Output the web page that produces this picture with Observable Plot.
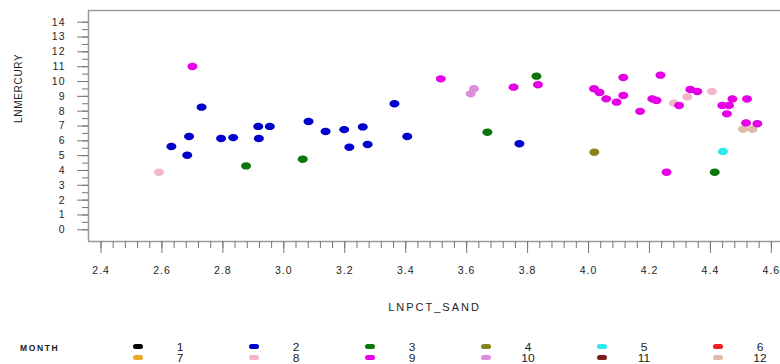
<!DOCTYPE html>
<html>
<head>
<meta charset="utf-8">
<script src="https://cdn.jsdelivr.net/npm/d3@7"></script>
<script src="https://cdn.jsdelivr.net/npm/@observablehq/plot@0.6"></script>
<style>
  body { margin: 0; background: #fff; }
  #wrap { position: relative; width: 780px; height: 364px; overflow: hidden; font-family: "Liberation Sans", Arial, sans-serif; }
  #wrap svg text { letter-spacing: 1px; }
  #wrap svg .xlabel text { letter-spacing: 2px; }
  #wrap svg .ylabel text { letter-spacing: 0.7px; }
  .lg { position: absolute; color: #1a1a1a; font-size: 10px; line-height: 10px; white-space: nowrap; }
  .lg-title { font-weight: bold; font-size: 8.5px; letter-spacing: 1.6px; }
  .lg-num { transform: translateX(-50%) scaleX(1.2); }
  .lg-sw { position: absolute; width: 10px; height: 5px; border-radius: 2.5px; }
</style>
</head>
<body>
<div id="wrap"></div>
<script>
// Months and their legend colours
const months = [1, 2, 3, 4, 5, 6, 7, 8, 9, 10, 11, 12];
const monthColors = ["#000000", "#0000cc", "#0b760b", "#84841a", "#2ee8ee", "#ee1c1c",
                     "#e8a828", "#f2b8c8", "#e600e6", "#dc8edc", "#7e1c1c", "#dcbca8"];

// Observations per month: LNPCT_SAND and LNMERCURY
const sand2 = [2.631, 2.683, 2.689, 2.730, 2.794, 2.834, 2.916, 2.954, 2.918, 3.081, 3.137, 3.198, 3.215, 3.259, 3.275, 3.363, 3.405, 3.773];
const merc2 = [5.62, 5.03, 6.29, 8.27, 6.16, 6.22, 6.97, 6.97, 6.16, 7.30, 6.63, 6.76, 5.57, 6.94, 5.75, 8.50, 6.29, 5.80];
const sand3 = [2.876, 3.062, 3.668, 3.829, 4.414];
const merc3 = [4.31, 4.76, 6.58, 10.36, 3.88];
const sand4 = [4.019];
const merc4 = [5.23];
const sand5 = [4.441];
const merc5 = [5.28];
const sand8 = [2.590, 4.280, 4.324, 4.405];
const merc8 = [3.88, 8.54, 8.96, 9.33];
const sand9 = [2.700, 3.515, 3.754, 3.834, 4.018, 4.036, 4.058, 4.092, 4.114, 4.114, 4.169, 4.236, 4.209, 4.223, 4.256, 4.297, 4.334, 4.357, 4.439, 4.461, 4.454, 4.472, 4.520, 4.517, 4.554];
const merc9 = [11.01, 10.18, 9.62, 9.78, 9.51, 9.26, 8.83, 8.61, 10.27, 9.06, 7.99, 10.43, 8.83, 8.72, 3.88, 8.38, 9.46, 9.33, 8.38, 8.38, 7.82, 8.82, 8.82, 7.21, 7.15];
const sand10 = [3.613, 3.624];
const merc10 = [9.17, 9.51];
const sand12 = [4.507, 4.538];
const merc12 = [6.78, 6.78];

// Axis ticks
const xTicks = [2.4, 2.6, 2.8, 3.0, 3.2, 3.4, 3.6, 3.8, 4.0, 4.2, 4.4, 4.6];
const yTicks = [0, 1, 2, 3, 4, 5, 6, 7, 8, 9, 10, 11, 12, 13, 14];
const xMinor = d3.range(0, 56).map(i => +(2.4 + i * 0.04).toFixed(2));
const yMinor = d3.range(0, 29).map(i => i * 0.5);

// Pale months first so the strong colours sit on top
const series = [
  [12, sand12, merc12], [8, sand8, merc8], [10, sand10, merc10],
  [2, sand2, merc2], [3, sand3, merc3], [4, sand4, merc4], [5, sand5, merc5], [9, sand9, merc9]
];
const rows = series.flatMap(([month, xs, ys]) => xs.map((x, i) => ({month, sand: x, merc: ys[i]})));

// Slightly wide elliptical marker
const ellipse = {
  draw(context, size) {
    const r = Math.sqrt(size / Math.PI);
    const rx = r * 1.25, ry = r * 0.92, k = 0.5523;
    context.moveTo(rx, 0);
    context.bezierCurveTo(rx, ry * k, rx * k, ry, 0, ry);
    context.bezierCurveTo(-rx * k, ry, -rx, ry * k, -rx, 0);
    context.bezierCurveTo(-rx, -ry * k, -rx * k, -ry, 0, -ry);
    context.bezierCurveTo(rx * k, -ry, rx, -ry * k, rx, 0);
    context.closePath();
  }
};

const xDomain = [2.359, 4.630];
const yDomain = [-0.79, 14.79];

const chart = Plot.plot({
  width: 780,
  height: 330,
  marginTop: 10,
  marginBottom: 89,
  marginLeft: 88,
  marginRight: 0,
  style: {fontFamily: "'Liberation Sans', Arial, sans-serif", fontSize: "10.5px", color: "#1e1e1e", background: "#fff", overflow: "visible"},
  x: {domain: xDomain},
  y: {domain: yDomain},
  color: {domain: months, range: monthColors},
  marks: [
    Plot.ruleY([yDomain[1]], {stroke: "#9a9a9a", strokeWidth: 1.5}),
    Plot.ruleY([yDomain[0]], {stroke: "#9a9a9a", strokeWidth: 1.5}),
    Plot.ruleX([xDomain[0]], {stroke: "#9a9a9a", strokeWidth: 1.5}),
    Plot.axisX({ticks: xMinor, tickSize: 7, text: null, stroke: "#777", label: null}),
    Plot.axisX({ticks: xTicks, tickSize: 12, tickPadding: 13, tickFormat: d3.format(".1f"), stroke: "#777", label: null}),
    Plot.axisY({ticks: yMinor, tickSize: 6, text: null, stroke: "#777", label: null}),
    Plot.axisY({ticks: yTicks, tickSize: 11, tickPadding: 12, stroke: "#777", label: null}),
    Plot.dot(rows, {x: "sand", y: "merc", fill: "month", r: 4, symbol: ellipse}),
    Plot.text(["LNPCT_SAND"], {frameAnchor: "bottom", dy: 69, fontSize: 11, fill: "#1e1e1e", className: "xlabel"}),
    Plot.text(["LNMERCURY"], {frameAnchor: "left", dx: -70, dy: -3, rotate: -90, fontSize: 10, fill: "#1e1e1e", className: "ylabel"})
  ]
});

const wrap = document.getElementById("wrap");
wrap.appendChild(chart);

// Legend below the plot
const addText = (txt, left, top, cls) => {
  const el = document.createElement("div");
  el.className = "lg " + cls;
  el.textContent = txt;
  el.style.left = left + "px";
  el.style.top = top + "px";
  wrap.appendChild(el);
};
addText("MONTH", 20, 343, "lg-title");
const rowTop = [347, 358];
months.forEach((m, i) => {
  const col = i % 6, row = Math.floor(i / 6);
  const cx = 138 + col * 116;
  const sw = document.createElement("div");
  sw.className = "lg-sw";
  sw.style.background = monthColors[i];
  sw.style.left = (cx - 5) + "px";
  sw.style.top = (rowTop[row] - 3) + "px";
  wrap.appendChild(sw);
  addText(String(m), cx + 42, rowTop[row] - 4, "lg-num");
});
</script>
</body>
</html>
